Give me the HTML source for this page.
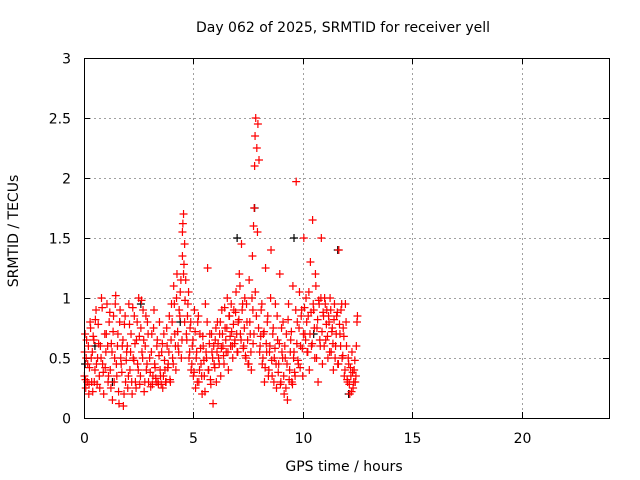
<!DOCTYPE html>
<html><head><meta charset="utf-8"><style>
body{margin:0;background:#fff}
svg{display:block;font-family:"DejaVu Sans","Liberation Sans",sans-serif}
</style></head><body>
<svg id="chart" width="640" height="480" viewBox="0 0 640 480">
<text x="343" y="32" font-size="14" text-anchor="middle">Day 062 of 2025, SRMTID for receiver yell</text>
<text x="344" y="471" font-size="14" text-anchor="middle">GPS time / hours</text>
<text transform="translate(18,231) rotate(-90)" font-size="14" text-anchor="middle">SRMTID / TECUs</text>
<g id="grid"></g><g id="ticks"></g><g id="marks"></g>
<rect x="84.5" y="58.5" width="525" height="360" fill="none" stroke="#000"/>
</svg>
<script>
const xTicks=[0,5,10,15,20];
const yTicks=[0,0.5,1,1.5,2,2.5,3];
const yTickLabels=["0","0.5","1","1.5","2","2.5","3"];
const blackTimes=[0.05,0.5,1.3,2.6,4.4,7.0,7.8,9.6,10.5,11.6,12.1];
const blackValues=[0.45,0.6,0.3,0.95,0.8,1.5,1.75,1.5,0.7,1.4,0.2];
const redTimes=[0.02,0.05,0.08,0.1,0.15,0.2,0.22,0.25,0.3,0.35,0.38,0.4,0.45,0.5,0.55,0.6,0.62,0.65,0.7,0.75,0.8,0.85,0.9,0.95,1.0,1.05,1.1,1.15,1.2,1.25,1.3,1.35,1.4,1.45,1.5,1.55,1.6,1.65,1.7,1.75,1.8,1.85,1.9,1.95,2.0,2.05,2.1,2.15,2.2,2.25,2.3,2.35,2.4,2.45,2.5,2.55,2.6,2.65,2.7,2.75,2.8,2.85,2.9,2.95,3.0,3.05,3.1,3.15,3.2,3.25,3.3,3.35,3.4,3.45,3.5,3.55,3.6,3.65,3.7,3.75,3.8,3.85,3.9,3.95,4.0,4.05,4.1,4.15,4.2,4.25,4.3,4.35,4.4,4.45,4.5,4.5,4.55,4.55,4.6,4.6,4.65,4.7,4.75,4.8,4.85,4.9,4.95,5.0,5.05,5.1,5.15,5.2,5.25,5.3,5.35,5.4,5.45,5.5,5.55,5.6,5.65,5.7,5.75,5.8,5.85,5.9,5.95,6.0,6.05,6.1,6.15,6.2,6.25,6.3,6.35,6.4,6.45,6.5,6.55,6.6,6.65,6.7,6.75,6.8,6.85,6.9,6.95,7.0,7.05,7.1,7.15,7.2,7.25,7.3,7.35,7.4,7.45,7.5,7.55,7.6,7.65,7.7,7.72,7.75,7.78,7.8,7.82,7.85,7.9,7.95,8.0,8.05,8.1,8.15,8.2,8.25,8.3,8.35,8.4,8.45,8.5,8.55,8.6,8.65,8.7,8.75,8.8,8.85,8.9,8.95,9.0,9.05,9.1,9.15,9.2,9.25,9.3,9.35,9.4,9.45,9.5,9.55,9.6,9.65,9.7,9.75,9.8,9.85,9.9,9.95,10.0,10.05,10.1,10.15,10.2,10.25,10.3,10.35,10.4,10.45,10.5,10.55,10.6,10.65,10.7,10.75,10.8,10.85,10.9,10.95,11.0,11.05,11.1,11.15,11.2,11.25,11.3,11.35,11.4,11.45,11.5,11.55,11.6,11.65,11.7,11.75,11.8,11.85,11.9,11.95,12.0,12.05,12.1,12.15,12.2,12.25,12.3,12.35,12.4,12.45,12.5];
const redValues=[0.35,0.7,0.25,0.5,0.3,0.6,0.2,0.42,0.75,0.3,0.55,0.22,0.65,0.4,0.9,0.28,0.5,0.78,0.35,0.6,1.0,0.45,0.2,0.7,0.55,0.95,0.3,0.8,0.4,0.62,0.15,0.85,0.5,1.02,0.35,0.7,0.12,0.9,0.45,0.6,0.1,0.78,0.3,0.55,0.25,0.95,0.4,0.7,0.2,0.5,0.85,0.3,0.65,0.45,1.0,0.28,0.75,0.55,0.9,0.22,0.6,0.4,0.8,0.3,0.5,0.26,0.7,0.35,0.9,0.42,0.3,0.65,0.28,0.8,0.35,0.55,0.25,0.7,0.4,0.3,0.6,0.45,0.85,0.3,0.95,0.5,1.1,0.7,0.4,1.2,0.6,0.9,1.05,0.5,1.35,1.55,1.7,1.2,1.45,0.8,1.15,0.65,0.95,0.5,0.75,0.4,0.6,0.35,0.9,0.25,0.55,0.8,0.3,0.7,0.45,0.2,0.6,0.35,0.95,0.5,1.25,0.4,0.7,0.28,0.55,0.12,0.45,0.65,0.3,0.8,0.5,0.7,0.35,0.9,0.6,0.45,0.75,0.55,1.0,0.4,0.85,0.6,0.72,0.5,0.9,0.65,1.05,0.55,0.8,1.2,0.7,1.45,0.95,0.6,1.0,0.5,0.8,0.45,1.15,0.7,0.4,1.35,0.9,1.6,1.75,2.1,2.35,2.5,2.25,2.45,2.15,0.6,0.9,0.45,0.7,0.3,1.25,0.55,0.85,0.4,0.6,1.4,0.35,0.75,0.5,0.95,0.25,0.65,0.45,1.2,0.3,0.55,0.8,0.2,0.5,0.7,0.15,0.95,0.4,0.65,0.3,1.1,0.55,0.35,1.97,0.8,0.45,1.05,0.6,0.9,0.35,1.5,0.7,1.0,0.55,0.85,0.4,1.3,0.6,1.65,0.9,0.5,1.1,0.75,0.3,0.95,0.6,1.5,0.45,0.85,1.0,0.65,0.9,0.5,0.8,1.0,0.55,0.75,0.4,0.95,0.6,0.85,0.45,1.4,0.7,0.9,0.5,0.75,0.35,0.95,0.6,0.3,0.45,0.2,0.35,0.55,0.25,0.4,0.3,0.6,0.85,0.8,0.4,0.45];
const redTimes2=[0.03,0.07,0.12,0.17,0.23,0.28,0.33,0.42,0.47,0.52,0.57,0.67,0.72,0.78,0.83,0.88,0.97,1.02,1.08,1.12,1.18,1.23,1.28,1.33,1.38,1.43,1.48,1.53,1.58,1.63,1.68,1.73,1.78,1.83,1.88,1.93,1.98,2.03,2.08,2.13,2.18,2.23,2.28,2.33,2.38,2.43,2.48,2.53,2.58,2.63,2.68,2.73,2.78,2.83,2.88,2.93,3.03,3.08,3.13,3.18,3.23,3.28,3.33,3.38,3.43,3.48,3.53,3.58,3.63,3.68,3.73,3.78,3.83,3.88,3.93,3.98,4.03,4.08,4.13,4.18,4.23,4.28,4.33,4.38,4.43,4.48,4.52,4.57,4.62,4.68,4.73,4.78,4.83,4.88,4.93,4.98,5.03,5.08,5.13,5.18,5.23,5.28,5.33,5.38,5.43,5.48,5.53,5.58,5.63,5.68,5.73,5.78,5.83,5.88,5.93,5.98,6.03,6.08,6.13,6.18,6.23,6.28,6.33,6.38,6.43,6.48,6.53,6.58,6.63,6.68,6.73,6.78,6.83,6.88,6.93,6.98,7.03,7.08,7.13,7.18,7.23,7.28,7.33,7.38,7.43,7.48,7.53,7.58,7.63,7.68,7.73,7.77,7.83,7.88,7.93,7.98,8.03,8.08,8.13,8.18,8.23,8.28,8.33,8.38,8.43,8.48,8.53,8.58,8.63,8.68,8.73,8.78,8.83,8.88,8.93,8.98,9.03,9.08,9.13,9.18,9.23,9.28,9.33,9.38,9.43,9.48,9.53,9.58,9.63,9.68,9.73,9.78,9.83,9.88,9.93,9.98,10.03,10.08,10.13,10.18,10.23,10.28,10.33,10.38,10.43,10.48,10.53,10.58,10.63,10.68,10.73,10.78,10.83,10.88,10.93,10.98,11.03,11.08,11.13,11.18,11.23,11.28,11.33,11.38,11.43,11.48,11.53,11.58,11.63,11.68,11.73,11.78,11.83,11.88,11.93,11.98,12.03,12.08,12.13,12.18,12.23,12.28,12.33,12.38,12.43,12.48];
const redValues2=[0.55,0.32,0.65,0.45,0.28,0.8,0.5,0.68,0.3,0.82,0.45,0.62,0.25,0.5,0.92,0.38,0.42,0.7,0.6,0.35,0.88,0.25,0.55,0.72,0.3,0.95,0.45,0.6,0.22,0.8,0.5,0.38,0.65,0.2,0.85,0.48,0.6,0.35,0.78,0.55,0.3,0.92,0.48,0.62,0.25,0.8,0.4,0.68,0.35,0.98,0.5,0.65,0.3,0.85,0.45,0.7,0.38,0.55,0.28,0.75,0.45,0.33,0.6,0.3,0.52,0.4,0.28,0.62,0.35,0.48,0.3,0.75,0.42,0.55,0.32,0.65,0.8,0.45,0.95,0.6,1.0,0.72,0.55,0.85,1.15,0.65,1.62,1.28,0.98,0.7,0.85,1.05,0.55,0.8,0.45,0.65,0.38,0.72,0.5,0.3,0.85,0.4,0.58,0.35,0.68,0.48,0.22,0.55,0.8,0.4,0.62,0.32,0.7,0.5,0.6,0.42,0.75,0.55,0.62,0.45,0.8,0.58,0.7,0.52,0.92,0.65,0.75,0.55,0.85,0.68,0.95,0.6,0.78,0.62,0.88,0.7,0.55,0.82,1.1,0.65,0.9,0.58,0.75,0.52,0.95,0.65,0.45,0.8,0.55,1.0,0.62,0.7,1.05,0.85,1.55,0.75,0.55,0.68,0.95,0.5,0.72,0.42,0.62,0.8,0.35,0.55,1.0,0.48,0.7,0.3,0.58,0.45,0.85,0.38,0.62,0.28,0.75,0.5,0.35,0.6,0.25,0.45,0.82,0.32,0.55,0.72,0.28,0.5,0.38,0.9,0.62,0.48,0.75,0.42,0.85,0.58,0.7,0.92,0.65,0.8,0.55,1.05,0.7,0.88,0.62,0.95,0.75,1.2,0.5,0.82,0.98,0.65,1.0,0.72,0.88,0.6,0.95,0.78,0.68,0.85,0.55,0.9,0.72,0.62,0.82,0.5,0.7,0.88,0.45,0.78,0.6,0.95,0.52,0.68,0.4,0.8,0.32,0.5,0.28,0.42,0.22,0.38,0.3,0.48,0.35,0.8,0.62,0.82];
const X0=84,X1=609,Y0=418,Y1=58;
const sx=v=>X0+(v/24)*(X1-X0);
const sy=v=>Y0-(v/3)*(Y0-Y1);
const NS="http://www.w3.org/2000/svg";
const grid=document.getElementById('grid'),ticks=document.getElementById('ticks'),marks=document.getElementById('marks');
function mk(tag,attrs,parent){const e=document.createElementNS(NS,tag);for(const k in attrs)e.setAttribute(k,attrs[k]);parent.appendChild(e);return e;}
xTicks.forEach(t=>{
  const x=Math.round(sx(t))+0.5;
  if(t>0){const g=mk('line',{x1:x,x2:x,y1:Y1,y2:Y0,stroke:'#a0a0a0','stroke-dasharray':'2,3'},grid);
  
  }
  mk('line',{x1:x,x2:x,y1:Y0,y2:Y0-6,stroke:'#000'},ticks);
  mk('line',{x1:x,x2:x,y1:Y1,y2:Y1+6,stroke:'#000'},ticks);
  const tx=mk('text',{x:x,y:443,'font-size':14,'text-anchor':'middle'},ticks);
  tx.textContent=t;
  
  
});
yTicks.forEach((t,i)=>{
  const y=Math.round(sy(t))+0.5;
  if(t>0&&t<3){const g=mk('line',{x1:X0,x2:X1,y1:y,y2:y,stroke:'#a0a0a0','stroke-dasharray':'2,3'},grid);
  
  }
  mk('line',{x1:X0,x2:X0+6,y1:y,y2:y,stroke:'#000'},ticks);
  mk('line',{x1:X1,x2:X1-6,y1:y,y2:y,stroke:'#000'},ticks);
  const tx=mk('text',{x:71,y:y+5,'font-size':14,'text-anchor':'end'},ticks);
  tx.textContent=yTickLabels[i];
  
  
});
function plus(x,y,color,name){
  const p=mk('path',{d:`M${x-4},${y}h8M${x},${y-4}v8`,stroke:color,'stroke-width':1.2,fill:'none'},marks);
  
  
}
blackTimes.forEach((t,i)=>plus(sx(t),sy(blackValues[i]),'#000','black-point'));
redTimes.forEach((t,i)=>plus(sx(t),sy(redValues[i]),'#ff0000','red-point'));
redTimes2.forEach((t,i)=>plus(sx(t),sy(redValues2[i]),'#ff0000','red-point'));
</script>
</body></html>
